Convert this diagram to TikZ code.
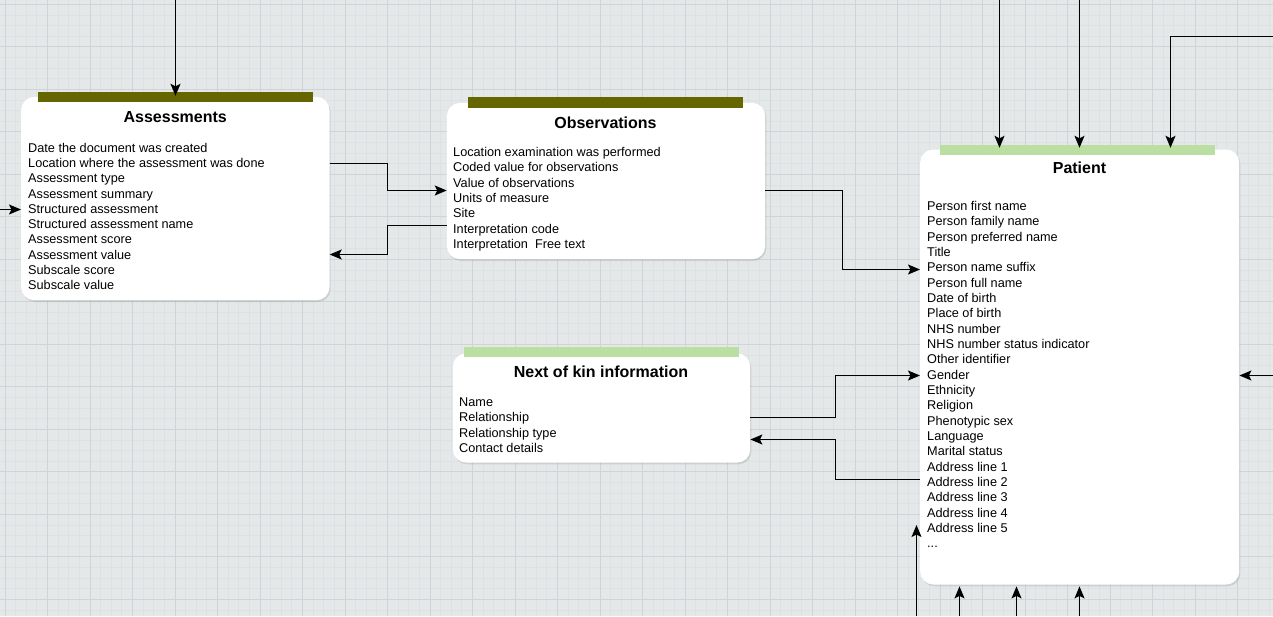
\documentclass[tikz,border=0pt]{standalone}
\usepackage{fontspec}
\setmainfont{Liberation Sans}
\usetikzlibrary{arrows.meta,calc,shadows}
\definecolor{bg}{RGB}{228,232,233}
\definecolor{gminor}{RGB}{221,225,227}
\definecolor{gmajor}{RGB}{208,211,215}
\definecolor{olivebar}{RGB}{102,102,0}
\definecolor{greenbar}{RGB}{187,223,163}
\begin{document}
\begin{tikzpicture}[x=1pt,y=-1pt,
  tablebox/.style={rectangle, rounded corners=13pt, fill=white, draw=none, inner sep=0pt, anchor=north west,
     drop shadow={shadow xshift=1.2pt, shadow yshift=-1.8pt, opacity=0.25, fill=black!45}},
  headbar/.style={rectangle, inner sep=0pt, draw=none, anchor=north west, minimum width=275pt, minimum height=10.5pt},
  titletext/.style={inner sep=0pt, anchor=base, font=\fontsize{16}{19}\selectfont\bfseries},
  field/.style={inner sep=0pt, anchor=base west, font=\fontsize{12.7}{15.3}\selectfont},
  conn/.style={draw=black, line width=1.3pt, -{Stealth[length=12pt,width=10pt,inset=2.5pt]}},
  minorline/.style={draw=gminor, line width=0.8pt},
  majorline/.style={draw=gmajor, line width=1pt}]
\useasboundingbox (0,0) rectangle (1273,616);
\fill[bg] (0,0) rectangle (1273,616);
% grid
\foreach \k in {0,...,121} \draw[minorline] ({-5.625+10.625*\k},0) -- ++(0,616);
\foreach \k in {0,...,59} \draw[minorline] (0,{-6.325+10.625*\k}) -- ++(1273,0);
\foreach \k in {0,...,29} \draw[majorline] ({5+42.5*\k},0) -- ++(0,616);
\foreach \k in {0,...,14} \draw[majorline] (0,{4.3+42.5*\k}) -- ++(1273,0);

% boxes
\node[tablebox, minimum width=308.3pt, minimum height=203.3pt] (assess) at (21,96.7) {};
\node[tablebox, minimum width=318.3pt, minimum height=156.3pt] (obs) at (446.7,102.7) {};
\node[tablebox, minimum width=297.3pt, minimum height=109pt] (nok) at (452.7,353.3) {};
\node[tablebox, minimum width=319pt, minimum height=435pt] (patient) at (920,149.3) {};

% header bars
\node[headbar, fill=olivebar] (assessbar) at (37.5,91.3) {};
\node[headbar, fill=olivebar] (obsbar) at (467.7,96.8) {};
\node[headbar, fill=greenbar] (nokbar) at (464,346.5) {};
\node[headbar, fill=greenbar] (patientbar) at (940,144.7) {};

% titles
\node[titletext] (assess-t) at (175.2,122.7) {Assessments};
\node[titletext] (obs-t) at (605.5,128.7) {Observations};
\node[titletext] (nok-t) at (601,377.7) {Next of kin information};
\node[titletext] (patient-t) at (1079.5,173.7) {Patient};

% fields
\foreach \t [count=\i from 0] in {Date the document was created, Location where the assessment was done,
  Assessment type, Assessment summary, Structured assessment, Structured assessment name,
  Assessment score, Assessment value, Subscale score, Subscale value}
  \node[field] (af\i) at (28,152.5+15.22*\i) {\t};
\foreach \t [count=\i from 0] in {Location examination was performed, Coded value for observations,
  Value of observations, Units of measure, Site, Interpretation code, Interpretation~~Free text}
  \node[field] (of\i) at (453,156.5+15.33*\i) {\t};
\foreach \t [count=\i from 0] in {Name, Relationship, Relationship type, Contact details}
  \node[field] (nf\i) at (459,406.5+15.33*\i) {\t};
\foreach \t [count=\i from 0] in {Person first name, Person family name, Person preferred name, Title,
  Person name suffix, Person full name, Date of birth, Place of birth, NHS number,
  NHS number status indicator, Other identifier, Gender, Ethnicity, Religion, Phenotypic sex,
  Language, Marital status, Address line 1, Address line 2, Address line 3, Address line 4, Address line 5}
  \node[field] (pf\i) at (927,210.5+15.33*\i) {\t};
\node[field] (pfdots) at (927,547.8) {...};

% free ends
\coordinate (a-top) at (175.5,0);
\coordinate (a-left) at (0,209.5);
\coordinate (p-top1) at (999.5,0);
\coordinate (p-top2) at (1079.5,0);
\coordinate (p-top3) at (1273,36.5);
\coordinate (p-right) at (1273,375.5);
\coordinate (p-bot0) at (916.5,616);
\coordinate (p-bot0e) at (916.5,525);
\coordinate (p-bot1) at (959.5,616);
\coordinate (p-bot2) at (1016.5,616);
\coordinate (p-bot3) at (1079.5,616);

% connectors
\draw[conn] (a-top) -- ($(a-top |- assessbar.north)+(0,4.5)$);
\draw[conn] (a-left) -- (a-left -| assess.west);
\draw[conn] (assess.east |- 0,163.5) -| (387.5,177) |- (obs.west |- 0,190.5);
\draw[conn] (obs.west |- 0,225.5) -| (387.5,240) |- (assess.east |- 0,254.5);
\draw[conn] (obs.east |- 0,190.5) -| (842.5,230) |- (patient.west |- 0,269.5);
\draw[conn] (nok.east |- 0,417.5) -| (835.5,400) |- (patient.west |- 0,375.5);
\draw[conn] (patient.west |- 0,479.5) -| (835.5,460) |- (nok.east |- 0,439.5);
\draw[conn] (p-top1) -- ($(p-top1 |- patient.north)+(0,-1.5)$);
\draw[conn] (p-top2) -- ($(p-top2 |- patient.north)+(0,-1.5)$);
\draw[conn] (p-top3) -| ($(1170.5,0 |- patient.north)+(0,-1.5)$);
\draw[conn] (p-right) -- (p-right -| patient.east);
\draw[conn] (p-bot0) -- (p-bot0e);
\draw[conn] (p-bot1) -- ($(p-bot1 |- patient.south)+(0,1.7)$);
\draw[conn] (p-bot2) -- ($(p-bot2 |- patient.south)+(0,1.7)$);
\draw[conn] (p-bot3) -- ($(p-bot3 |- patient.south)+(0,1.7)$);
\end{tikzpicture}
\end{document}
